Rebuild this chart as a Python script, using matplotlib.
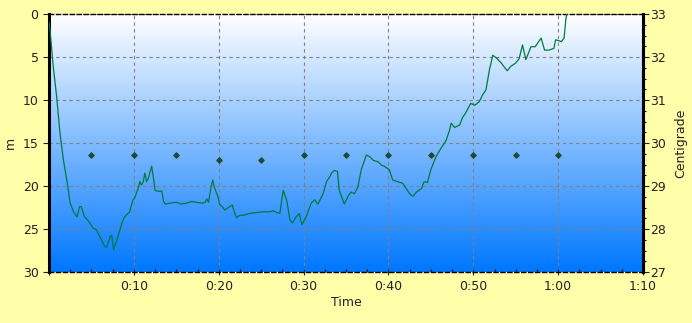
import numpy as np
import matplotlib.pyplot as plt
from matplotlib.ticker import MultipleLocator, FuncFormatter
from matplotlib.colors import LinearSegmentedColormap

# ============================================================
# DATA
# ============================================================
time_min = [0.0, 0.1, 0.5, 0.9, 1.3, 1.7, 2.1, 2.5, 2.9, 3.3, 3.6, 3.8, 4.2, 4.6,
            5.2, 5.6, 6.0, 6.6, 6.8, 7.2, 7.4, 7.6, 8.0, 8.6, 8.9, 9.5, 9.9,
            10.1, 10.5, 10.7, 10.9, 11.1, 11.3, 11.5, 11.7, 12.1, 12.3, 12.5,
            12.7, 13.3, 13.5, 13.7, 14.2, 15.0, 15.6, 16.2, 16.8, 17.4, 18.0,
            18.4, 18.6, 18.8, 19.1, 19.3, 19.5, 19.9, 20.1, 20.5, 20.7, 21.3,
            21.6, 21.9, 22.1, 22.5, 22.9, 23.6, 24.4, 25.2, 26.0, 26.4, 27.2,
            27.6, 28.0, 28.4, 28.7, 29.1, 29.5, 29.8, 30.3, 30.9, 31.3, 31.7,
            32.3, 32.7, 33.1, 33.3, 33.6, 34.0, 34.2, 34.8, 35.3, 35.6, 36.0,
            36.4, 36.8, 37.4, 37.8, 38.2, 38.8, 39.2, 39.5, 40.1, 40.5, 41.1,
            41.7, 42.5, 42.9, 43.3, 43.9, 44.2, 44.6, 45.0, 45.6, 46.2, 46.8,
            47.2, 47.4, 47.8, 48.4, 48.7, 49.1, 49.7, 50.2, 50.7, 51.1, 51.5,
            51.9, 52.3, 52.7, 53.3, 53.6, 54.0, 54.4, 55.0, 55.4, 55.8, 56.2,
            56.8, 57.3, 58.0, 58.4, 58.9, 59.5, 59.7, 60.4, 60.7, 60.9, 61.1]
depth_m = [1.0, 1.6, 6.1, 9.6, 13.9, 17.0, 19.3, 22.0, 23.0, 23.6, 22.4, 22.4, 23.6, 24.0,
           24.9, 25.1, 25.9, 27.1, 27.1, 25.9, 25.7, 27.4, 26.3, 24.3, 23.6, 23.0, 21.6,
           21.4, 20.3, 19.5, 19.9, 19.5, 18.5, 19.5, 19.1, 17.7, 19.0, 20.5,
           20.6, 20.6, 21.8, 22.1, 22.0, 21.9, 22.1, 22.0, 21.8, 21.9, 22.0,
           21.9, 21.5, 21.9, 20.1, 19.3, 20.2, 21.2, 22.1, 22.5, 22.8, 22.4,
           22.2, 23.2, 23.7, 23.4, 23.4, 23.2, 23.1, 23.0, 23.0, 22.9, 23.2,
           20.5, 21.6, 24.0, 24.3, 23.6, 23.2, 24.5, 23.6, 22.0, 21.6, 22.1,
           20.9, 19.5, 18.9, 18.5, 18.2, 18.3, 20.5, 22.1, 21.1, 20.7, 20.9,
           20.1, 18.1, 16.4, 16.6, 17.0, 17.2, 17.6, 17.7, 18.1, 19.3, 19.5,
           19.7, 20.9, 21.2, 20.7, 20.3, 19.5, 19.6, 18.1, 16.6, 15.6, 14.7,
           13.5, 12.7, 13.2, 12.9, 12.1, 11.5, 10.4, 10.6, 10.2, 9.4, 8.8,
           6.5, 4.8, 5.1, 5.7, 6.1, 6.6, 6.1, 5.7, 5.2, 3.6, 5.3,
           3.8, 3.8, 2.8, 4.2, 4.2, 4.0, 3.0, 3.2, 2.8, 0.7, -0.5]

temp_time = [5, 10, 15, 20, 25, 30, 35, 40, 45, 50, 55, 60]
temp_c = [29.72, 29.72, 29.72, 29.6, 29.6, 29.72, 29.72, 29.72, 29.72, 29.72, 29.72, 29.72]

x_ticks = [0, 10, 20, 30, 40, 50, 60, 70]

# ============================================================
# FIGURE
# ============================================================
bg = '#ffffaa'
fig = plt.figure(figsize=(6.92, 3.23), dpi=100, facecolor=bg)
ax = fig.add_axes([49 / 692, 51 / 323, 594 / 692, 258 / 323])

# gradient plot background
cmap = LinearSegmentedColormap.from_list('sky', ['#ffffff', '#0077ff'])
grad = np.linspace(0, 1, 256).reshape(-1, 1)
ax.imshow(grad, cmap=cmap, aspect='auto', extent=[0, 70, 30, 0], zorder=0)

ax.plot(time_min, depth_m, color='#007a3d', linewidth=0.9, zorder=3, clip_on=True)

ax.set_xlim(0, 70)
ax.set_ylim(30, 0)
ax.xaxis.set_major_locator(MultipleLocator(10))
ax.xaxis.set_minor_locator(MultipleLocator(2.5))
ax.xaxis.set_major_formatter(FuncFormatter(
    lambda v, p: '' if v == 0 else f"{int(v) // 60}:{int(v) % 60:02d}"))
ax.yaxis.set_major_locator(MultipleLocator(5))

ax.grid(True, which='major', linestyle='--', color='#808080', linewidth=0.8, dashes=(3, 3))

for s in ['top', 'bottom']:
    ax.spines[s].set_linestyle((0, (3, 2)))
    ax.spines[s].set_linewidth(1.0)
ax.spines['left'].set_linewidth(2.2)
ax.spines['right'].set_linewidth(2.2)

ax.tick_params(axis='both', which='major', labelsize=9, colors='#222222', length=4, width=0.8)
ax.tick_params(axis='x', which='minor', length=2, width=0.8, direction='in')
ax.tick_params(axis='x', which='major', direction='inout', length=5)
ax.set_xlabel('Time', fontsize=9, color='#222222', labelpad=2)
ax.set_ylabel('m', fontsize=9, color='#222222', labelpad=4)

# temperature on right axis
ax2 = ax.twinx()
ax2.scatter(temp_time, temp_c, marker='D', s=7, color='#1f4a33', zorder=4)
ax2.set_ylim(27, 33)
ax2.yaxis.set_major_locator(MultipleLocator(1))
ax2.yaxis.set_minor_locator(MultipleLocator(0.25))
ax2.tick_params(axis='y', which='major', labelsize=9, colors='#222222', length=4, width=0.8, pad=1)
ax2.tick_params(axis='y', which='minor', length=2, width=0.8)
ax2.set_ylabel('Centigrade', fontsize=9, color='#222222', labelpad=6)
for s in ['top', 'bottom', 'left']:
    ax2.spines[s].set_visible(False)
ax2.spines['right'].set_linewidth(2.2)

plt.savefig('out.png', dpi=100, facecolor=bg)
